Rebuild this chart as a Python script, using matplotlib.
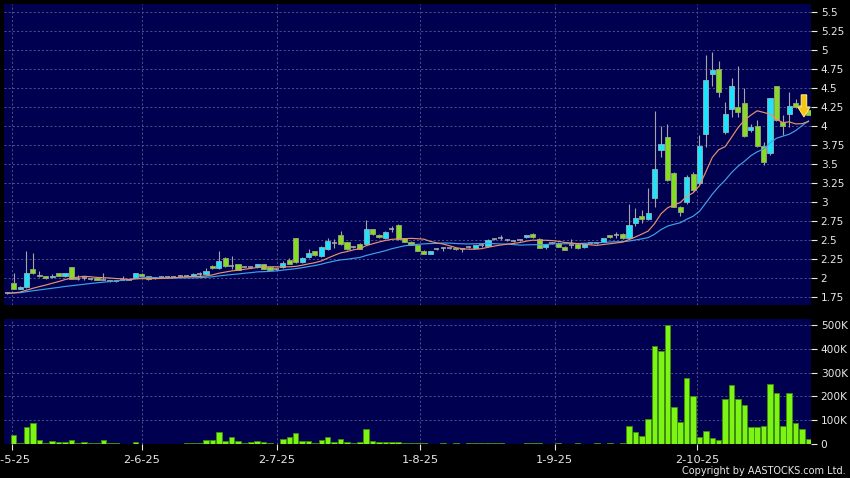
import numpy as np
import pandas as pd
import matplotlib
matplotlib.use("Agg")
import matplotlib.pyplot as plt
from matplotlib.patches import FancyArrow

# ---------------- data ----------------
opens = [1.80, 1.94, 1.86, 1.88, 2.115, 2.04, 2.02, 2.01, 2.06, 2.02,
         2.14, 1.99, 2.00, 1.99, 2.00, 1.98, 1.97, 1.96, 1.98, 1.98,
         2.00, 2.05, 2.02, 2.00, 2.01, 2.01, 2.01, 2.03, 2.03, 2.03,
         2.05, 2.05, 2.16, 2.13, 2.26, 2.16, 2.18, 2.15, 2.14, 2.14,
         2.18, 2.14, 2.12, 2.15, 2.24, 2.52, 2.21, 2.27, 2.35, 2.29,
         2.38, 2.46, 2.57, 2.47, 2.41, 2.45, 2.45, 2.64, 2.57, 2.52,
         2.64, 2.70, 2.52, 2.48, 2.43, 2.36, 2.32, 2.38, 2.39, 2.39,
         2.39, 2.38, 2.41, 2.40, 2.43, 2.42, 2.51, 2.52, 2.50, 2.49,
         2.50, 2.535, 2.58, 2.51, 2.41, 2.46, 2.46, 2.41, 2.44, 2.447,
         2.41, 2.465, 2.465, 2.48, 2.56, 2.565, 2.58, 2.52, 2.73, 2.816,
         2.77, 3.05, 3.68, 3.85, 3.38, 2.93, 3.00, 3.37, 3.25, 3.90,
         4.69, 4.75, 3.925, 4.22, 4.25, 4.30, 3.95, 4.00, 3.74, 3.65,
         4.52, 4.05, 4.16, 4.30, 4.27, 4.21]
highs = [1.82, 2.07, 1.89, 2.36, 2.33, 2.09, 2.03, 2.05, 2.07, 2.06,
         2.14, 2.04, 2.03, 2.00, 2.01, 2.07, 1.98, 1.97, 2.02, 1.99,
         2.07, 2.06, 2.03, 2.01, 2.02, 2.02, 2.02, 2.04, 2.04, 2.07,
         2.08, 2.13, 2.17, 2.36, 2.27, 2.29, 2.19, 2.16, 2.15, 2.19,
         2.19, 2.15, 2.13, 2.23, 2.26, 2.52, 2.27, 2.38, 2.36, 2.42,
         2.52, 2.51, 2.62, 2.48, 2.42, 2.46, 2.76, 2.65, 2.58, 2.62,
         2.68, 2.71, 2.53, 2.49, 2.44, 2.37, 2.36, 2.39, 2.41, 2.40,
         2.40, 2.39, 2.42, 2.44, 2.46, 2.51, 2.52, 2.56, 2.51, 2.50,
         2.51, 2.57, 2.59, 2.52, 2.45, 2.47, 2.47, 2.42, 2.51, 2.46,
         2.45, 2.48, 2.48, 2.53, 2.57, 2.60, 2.59, 2.97, 2.92, 2.90,
         3.19, 4.20, 4.00, 4.03, 3.40, 2.95, 3.35, 3.40, 3.88, 4.93,
         4.98, 4.86, 4.32, 4.63, 4.79, 4.50, 4.02, 4.08, 3.79, 4.37,
         4.53, 4.15, 4.45, 4.36, 4.30, 4.24]
lows = [1.79, 1.85, 1.85, 1.87, 2.05, 2.01, 1.99, 2.00, 2.02, 2.01,
        1.99, 1.98, 1.97, 1.98, 1.98, 1.97, 1.95, 1.95, 1.97, 1.97,
        2.00, 2.02, 1.98, 1.99, 2.00, 2.00, 2.00, 2.02, 2.02, 2.02,
        2.01, 2.04, 2.12, 2.12, 2.15, 2.12, 2.11, 2.14, 2.13, 2.13,
        2.12, 2.11, 2.11, 2.13, 2.18, 2.20, 2.20, 2.26, 2.29, 2.28,
        2.37, 2.40, 2.44, 2.37, 2.40, 2.38, 2.44, 2.57, 2.53, 2.51,
        2.60, 2.50, 2.47, 2.43, 2.36, 2.31, 2.31, 2.37, 2.36, 2.38,
        2.37, 2.34, 2.40, 2.40, 2.41, 2.41, 2.50, 2.50, 2.49, 2.48,
        2.49, 2.53, 2.53, 2.40, 2.38, 2.45, 2.41, 2.37, 2.40, 2.38,
        2.40, 2.45, 2.45, 2.47, 2.53, 2.53, 2.51, 2.51, 2.68, 2.73,
        2.76, 2.93, 3.59, 3.28, 2.93, 2.82, 2.98, 3.15, 3.23, 3.73,
        4.52, 4.38, 3.90, 4.12, 4.12, 3.86, 3.92, 3.73, 3.49, 3.62,
        4.07, 3.88, 3.99, 4.24, 4.20, 4.14]
closes = [1.80, 1.86, 1.88, 2.06, 2.06, 2.02, 2.00, 2.03, 2.02, 2.06,
          1.99, 1.99, 2.00, 1.99, 1.98, 1.98, 1.96, 1.96, 1.98, 1.98,
          2.06, 2.03, 1.99, 2.00, 2.01, 2.01, 2.01, 2.03, 2.03, 2.05,
          2.05, 2.09, 2.13, 2.22, 2.16, 2.16, 2.11, 2.15, 2.14, 2.18,
          2.12, 2.11, 2.12, 2.20, 2.19, 2.21, 2.26, 2.33, 2.30, 2.41,
          2.49, 2.46, 2.45, 2.38, 2.41, 2.38, 2.64, 2.58, 2.54, 2.61,
          2.64, 2.51, 2.48, 2.43, 2.36, 2.32, 2.35, 2.38, 2.39, 2.39,
          2.38, 2.38, 2.41, 2.43, 2.43, 2.50, 2.51, 2.52, 2.50, 2.49,
          2.50, 2.565, 2.535, 2.40, 2.445, 2.46, 2.41, 2.37, 2.44, 2.39,
          2.447, 2.465, 2.465, 2.52, 2.54, 2.565, 2.52, 2.70, 2.785, 2.772,
          2.85, 3.44, 3.76, 3.29, 2.94, 2.87, 3.33, 3.16, 3.74, 4.60,
          4.74, 4.45, 4.16, 4.52, 4.19, 3.87, 3.99, 3.74, 3.53, 4.365,
          4.08, 4.00, 4.26, 4.25, 4.22, 4.15]
volumes_k = [2, 39, 3, 72, 89, 18, 6, 13, 8, 10,
             17, 6, 7, 4, 4, 17, 3, 3, 2, 1,
             10, 2, 1, 1, 1, 1, 2, 2, 4, 4,
             3, 15, 15, 52, 14, 28, 11, 4, 8, 13,
             7, 6, 1, 22, 31, 46, 11, 14, 6, 15,
             30, 10, 21, 8, 4, 7, 65, 11, 8, 7,
             8, 8, 4, 3, 6, 3, 2, 2, 3, 2,
             3, 2, 3, 4, 3, 5, 3, 4, 2, 2,
             2, 4, 3, 3, 2, 2, 3, 2, 2, 3,
             2, 2, 3, 2, 3, 2, 3, 77, 49, 35,
             106, 411, 390, 500, 155, 92, 277, 200, 28, 56,
             25, 18, 187, 246, 190, 162, 73, 70, 77, 251,
             214, 77, 215, 87, 63, 21]
# closes before the visible window (seed the moving averages)
prior_closes = [1.79, 1.80, 1.80, 1.81, 1.80, 1.79, 1.80, 1.80, 1.81, 1.80,
                1.80, 1.79, 1.80, 1.81, 1.80, 1.80, 1.79, 1.80, 1.80]

date_labels = ["2-5-25", "2-6-25", "2-7-25", "1-8-25", "1-9-25", "2-10-25"]
date_pos = [0.75, 21.0, 42.1, 64.4, 85.4, 107.6]
price_ticks = [1.75, 2.0, 2.25, 2.5, 2.75, 3.0, 3.25, 3.5, 3.75, 4.0,
               4.25, 4.5, 4.75, 5.0, 5.25, 5.5]
price_labels = ["1.75", "2", "2.25", "2.5", "2.75", "3", "3.25", "3.5",
                "3.75", "4", "4.25", "4.5", "4.75", "5", "5.25", "5.5"]
vol_ticks = [0, 100, 200, 300, 400, 500]
vol_labels = ["0", "100K", "200K", "300K", "400K", "500K"]

# ---------------- styling ----------------
BG = "#000050"
GRID = "#5a5a92"
TXT = "#e8e8e8"
CYAN = "#1ee4fb"
LIME = "#84dc24"
WICK = "#a4a4a4"
VOL = "#7cf414"
VOL_EDGE = "#3f8f06"
MA10_C = "#e8926c"
MA20_C = "#3fa2e8"
FS_Y = 7.6
FS_X = 8.2
FS_C = 7.0

O = np.array(opens); H = np.array(highs); L = np.array(lows); C = np.array(closes)
V = np.array(volumes_k)
n = len(C)
idx = np.arange(n)

allc = pd.Series(prior_closes + closes)
ma10 = allc.rolling(10).mean().values[len(prior_closes):]
ma20 = allc.rolling(20).mean().values[len(prior_closes):]

W, Hpx = 850, 478
fig = plt.figure(figsize=(W / 100, Hpx / 100), dpi=100, facecolor="black")
ax1 = fig.add_axes([4 / W, 1 - 305 / Hpx, 807 / W, 301 / Hpx])
ax2 = fig.add_axes([4 / W, 1 - 444 / Hpx, 807 / W, 125 / Hpx], sharex=ax1)

xlim = (-0.51, 125.4)
for ax in (ax1, ax2):
    ax.set_facecolor(BG)
    for s in ax.spines.values():
        s.set_visible(False)
    ax.yaxis.tick_right()
    ax.tick_params(axis="y", colors=TXT, labelcolor=TXT, labelsize=FS_Y,
                   length=4, width=0.8, pad=3, direction="out")
    for gp in date_pos:
        ax.axvline(gp, color=GRID, lw=0.6, ls=(0, (2.5, 2.5)), zorder=0)

# ---- price panel ----
ax1.set_ylim(1.645, 5.605)
ax1.set_yticks(price_ticks)
ax1.set_yticklabels(price_labels)
ax1.yaxis.grid(True, color=GRID, lw=0.6, ls=(0, (2.5, 2.5)))
ax1.set_axisbelow(True)
ax1.tick_params(axis="x", length=0, labelbottom=False)

ax1.vlines(idx, L, H, color=WICK, lw=0.8, zorder=2)
up = C > O + 1e-9
dn = C < O - 1e-9
flat = ~(up | dn)
bw = 0.8
ax1.bar(idx[up], (C - O)[up], bottom=O[up], width=bw, color=CYAN,
        edgecolor="#8cb4bc", linewidth=0.6, zorder=3)
ax1.bar(idx[dn], (O - C)[dn], bottom=C[dn], width=bw, color=LIME,
        edgecolor="#9aa37a", linewidth=0.6, zorder=3)
ax1.hlines(C[flat], idx[flat] - bw / 2, idx[flat] + bw / 2, color=WICK,
           lw=1.2, zorder=3)

ax1.plot(idx, ma20, color=MA20_C, lw=0.85, zorder=4)
ax1.plot(idx, ma10, color=MA10_C, lw=0.85, zorder=4)

# last-price marker arrow, placed from the last candle
ax_x = idx[-1] - 0.7
tip = C[-1] - 0.03
top = tip + 0.29
ax1.add_patch(FancyArrow(ax_x, top, 0, tip - top, width=0.85, head_width=1.9,
                         head_length=0.13, length_includes_head=True,
                         facecolor="#f6c414", edgecolor="#ffe47c",
                         linewidth=0.8, zorder=6))

# ---- volume panel ----
ax2.set_ylim(0, 525)
ax2.set_yticks(vol_ticks)
ax2.set_yticklabels(vol_labels)
ax2.yaxis.grid(True, color=GRID, lw=0.6, ls=(0, (2.5, 2.5)))
ax2.set_axisbelow(True)
ax2.bar(idx, V, width=0.86, color=VOL, edgecolor=VOL_EDGE, linewidth=0.6,
        zorder=3)
ax2.set_xticks(date_pos)
ax2.set_xticklabels(date_labels)
ax2.tick_params(axis="x", colors=TXT, labelcolor=TXT, labelsize=FS_X,
                length=4, width=0.8, pad=4, direction="out")
ax2.set_xlim(*xlim)
ax1.set_xlim(*xlim)

fig.text(846 / W, 1 - 471 / Hpx, "Copyright by AASTOCKS.com Ltd.",
         color=TXT, fontsize=FS_C, ha="right", va="center")

fig.savefig("out.png", dpi=100, facecolor="black")
